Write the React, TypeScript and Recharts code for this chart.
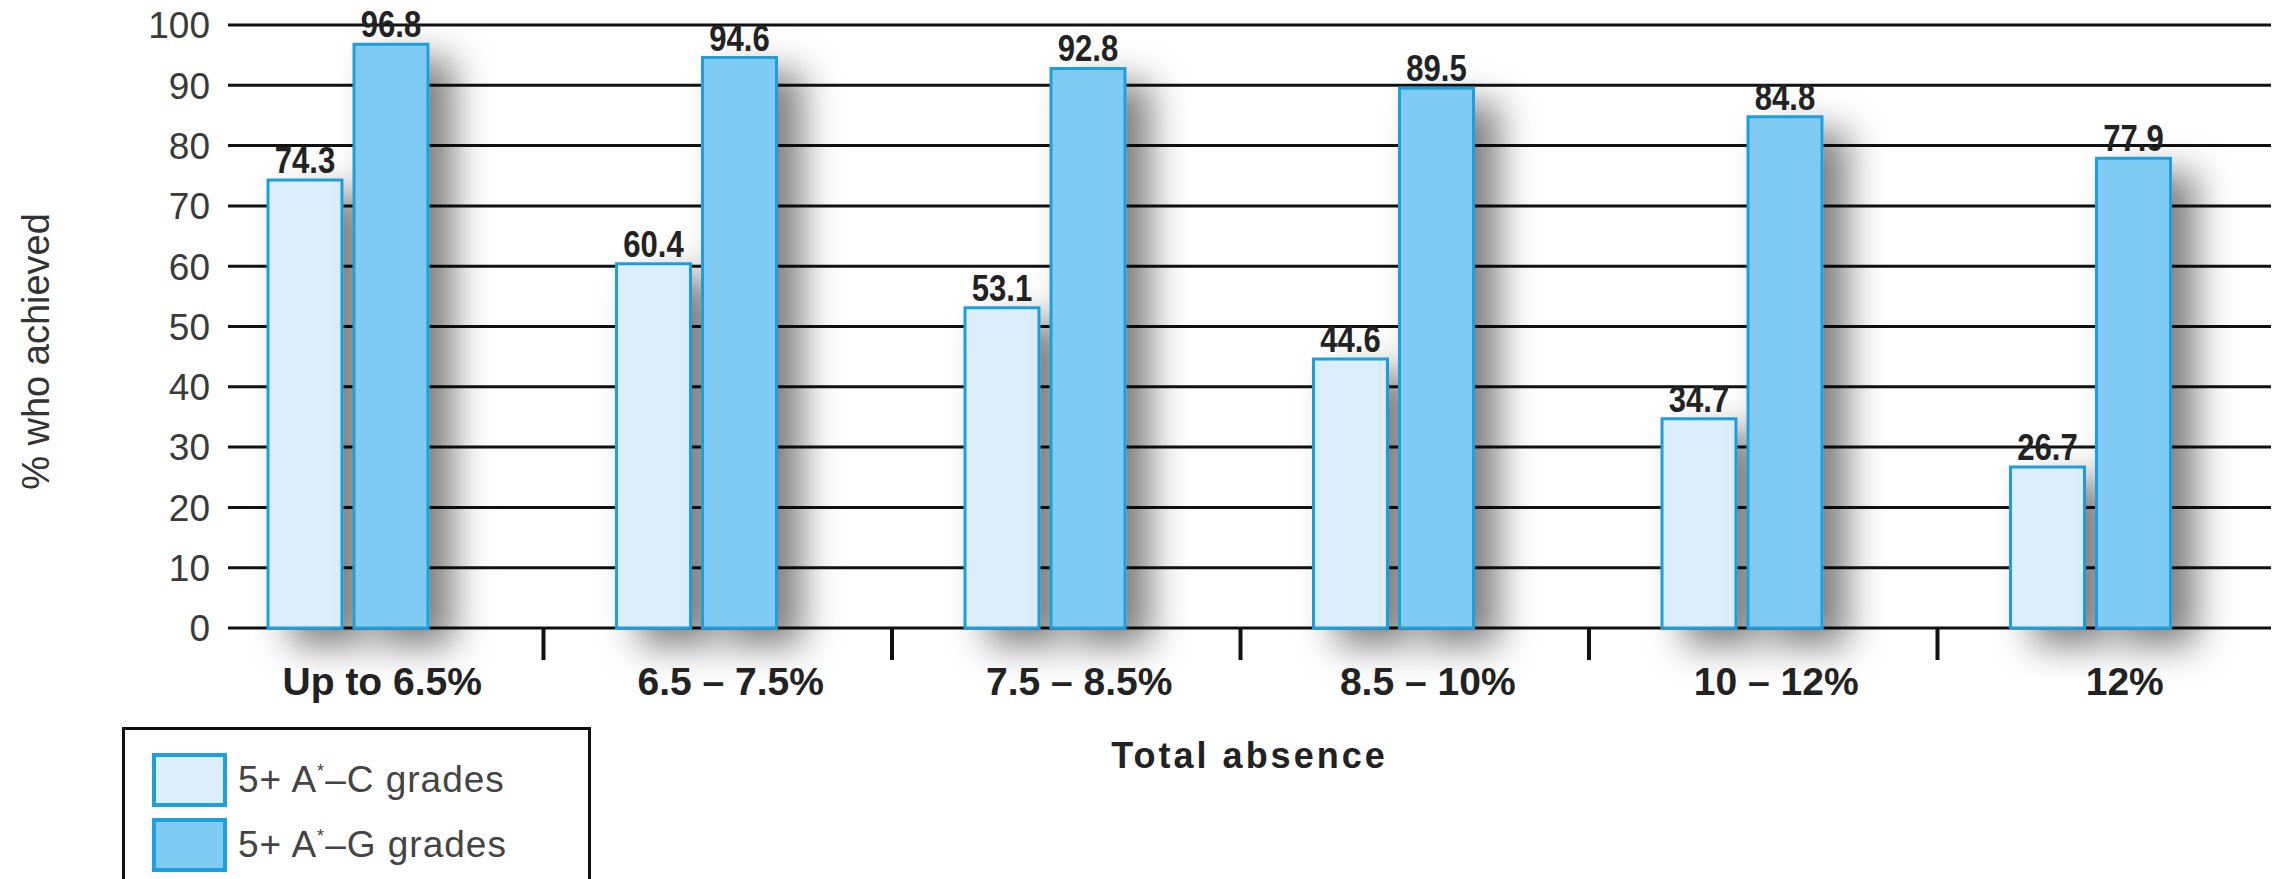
import { BarChart, Bar, XAxis, YAxis, CartesianGrid, LabelList, Legend } from "recharts";

const categories = ["Up to 6.5%", "6.5 – 7.5%", "7.5 – 8.5%", "8.5 – 10%", "10 – 12%", "12%"];
const gradesAC = [74.3, 60.4, 53.1, 44.6, 34.7, 26.7];
const gradesAG = [96.8, 94.6, 92.8, 89.5, 84.8, 77.9];
const yTicks = [0, 10, 20, 30, 40, 50, 60, 70, 80, 90, 100];
const seriesNames = ["5+ A*–C grades", "5+ A*–G grades"];

const data = categories.map((category, i) => ({
  category,
  ac: gradesAC[i],
  ag: gradesAG[i],
}));

const W = 2280;
const H = 879;
const margin = { top: 25, right: 15, left: 0, bottom: 111 };
const yAxisWidth = 174;
const band = (W - margin.left - margin.right - yAxisWidth) / categories.length;

const font = "'Liberation Sans', Arial, sans-serif";
const stroke = "#1f9fdc";
const lightFill = "#dcedfb";
const darkFill = "#80cbf3";

const GridLine = (props: any) => (
  <line
    key={props.key}
    x1={props.x1 + 54}
    x2={props.x2 + 6}
    y1={props.y1}
    y2={props.y2}
    stroke="#111"
    strokeWidth={3}
  />
);

const XTick = (props: any) => {
  const { x, y, payload, index } = props;
  return (
    <g>
      <text
        x={x + 34}
        y={y + 67}
        textAnchor="middle"
        fontFamily={font}
        fontWeight="bold"
        fontSize={39}
        fill="#222"
      >
        {payload.value}
      </text>
      {index < categories.length - 1 && (
        <line x1={x + band / 2 + 21} x2={x + band / 2 + 21} y1={y} y2={y + 32} stroke="#111" strokeWidth={4} />
      )}
    </g>
  );
};

const YTick = (props: any) => {
  const { x, y, payload } = props;
  return (
    <text x={x + 36} y={y} dy="0.36em" textAnchor="end" fontFamily={font} fontSize={37} fill="#3a3a3a">
      {payload.value}
    </text>
  );
};

// narrow value label above each bar
const ValueLabel = (props: any) => {
  const { x, y, width, value } = props;
  const cx = x + width / 2;
  const by = y - 7;
  return (
    <text
      transform={`translate(${cx} ${by}) scale(0.84 1)`}
      textAnchor="middle"
      fontFamily={font}
      fontWeight="bold"
      fontSize={37}
      fill="#222"
    >
      {Number(value).toFixed(1)}
    </text>
  );
};

const renderName = (name: string) => {
  const [a, b] = name.split("*");
  return (
    <>
      {a}
      <sup style={{ fontSize: 18, verticalAlign: "top", position: "relative", top: 2 }}>*</sup>
      {b}
    </>
  );
};

const LegendBox = () => (
  <div
    style={{
      width: 469,
      height: 152,
      borderTop: "3px solid #111",
      borderLeft: "3px solid #111",
      borderRight: "3px solid #111",
      background: "#fff",
      paddingTop: 17,
      paddingLeft: 27,
      boxSizing: "border-box",
      fontFamily: font,
      fontSize: 37,
      letterSpacing: 1,
      color: "#444",
    }}
  >
    {seriesNames.map((name, i) => (
      <div key={name} style={{ display: "flex", alignItems: "center", height: 65 }}>
        <div
          style={{
            width: 75,
            height: 54,
            boxSizing: "border-box",
            border: `4px solid ${stroke}`,
            background: i === 0 ? lightFill : darkFill,
            marginRight: 11,
          }}
        />
        <span>{renderName(name)}</span>
      </div>
    ))}
  </div>
);

export default function App() {
  return (
    <div style={{ position: "absolute", left: 0, top: 0, width: W, height: H, background: "#fff" }}>
      <BarChart width={W} height={H} data={data} margin={margin} barSize={74} barGap={12}>
        <defs>
          <filter id="barShadow" x="-60%" y="-20%" width="280%" height="150%">
            <feDropShadow dx={24} dy={16} stdDeviation={18} floodColor="#000" floodOpacity={0.5} />
          </filter>
        </defs>
        <CartesianGrid vertical={false} horizontal={GridLine} />
        <XAxis
          dataKey="category"
          interval={0}
          tickLine={false}
          axisLine={false}
          tickSize={0}
          tickMargin={0}
          height={140}
          tick={XTick}
          label={{
            content: (p: any) => (
              <text
                x={p.viewBox.x + p.viewBox.width / 2 + 30}
                y={p.viewBox.y + 140}
                textAnchor="middle"
                fontFamily={font}
                fontWeight="bold"
                fontSize={36}
                letterSpacing={3}
                fill="#222"
              >
                Total absence
              </text>
            ),
          }}
        />
        <YAxis
          width={yAxisWidth}
          domain={[0, 100]}
          ticks={yTicks}
          interval={0}
          tickLine={false}
          axisLine={false}
          tickSize={0}
          tickMargin={0}
          tick={YTick}
          label={{
            content: (p: any) => {
              const cx = p.viewBox.x + 36;
              const cy = p.viewBox.y + p.viewBox.height / 2 + 25;
              return (
                <text
                  x={cx}
                  y={cy}
                  transform={`rotate(-90 ${cx} ${cy})`}
                  textAnchor="middle"
                  dominantBaseline="central"
                  fontFamily={font}
                  fontSize={38}
                  fill="#333"
                >
                  % who achieved
                </text>
              );
            },
          }}
        />
        <Legend
          layout="vertical"
          align="center"
          verticalAlign="middle"
          content={LegendBox}
          wrapperStyle={{ left: 122, top: 727, width: 469, height: 152 }}
        />
        <Bar
          dataKey="ac"
          name={seriesNames[0]}
          fill={lightFill}
          stroke={stroke}
          strokeWidth={3}
          filter="url(#barShadow)"
          isAnimationActive={false}
        >
          <LabelList dataKey="ac" content={ValueLabel} />
        </Bar>
        <Bar
          dataKey="ag"
          name={seriesNames[1]}
          fill={darkFill}
          stroke={stroke}
          strokeWidth={3}
          filter="url(#barShadow)"
          isAnimationActive={false}
        >
          <LabelList dataKey="ag" content={ValueLabel} />
        </Bar>
      </BarChart>
    </div>
  );
}
